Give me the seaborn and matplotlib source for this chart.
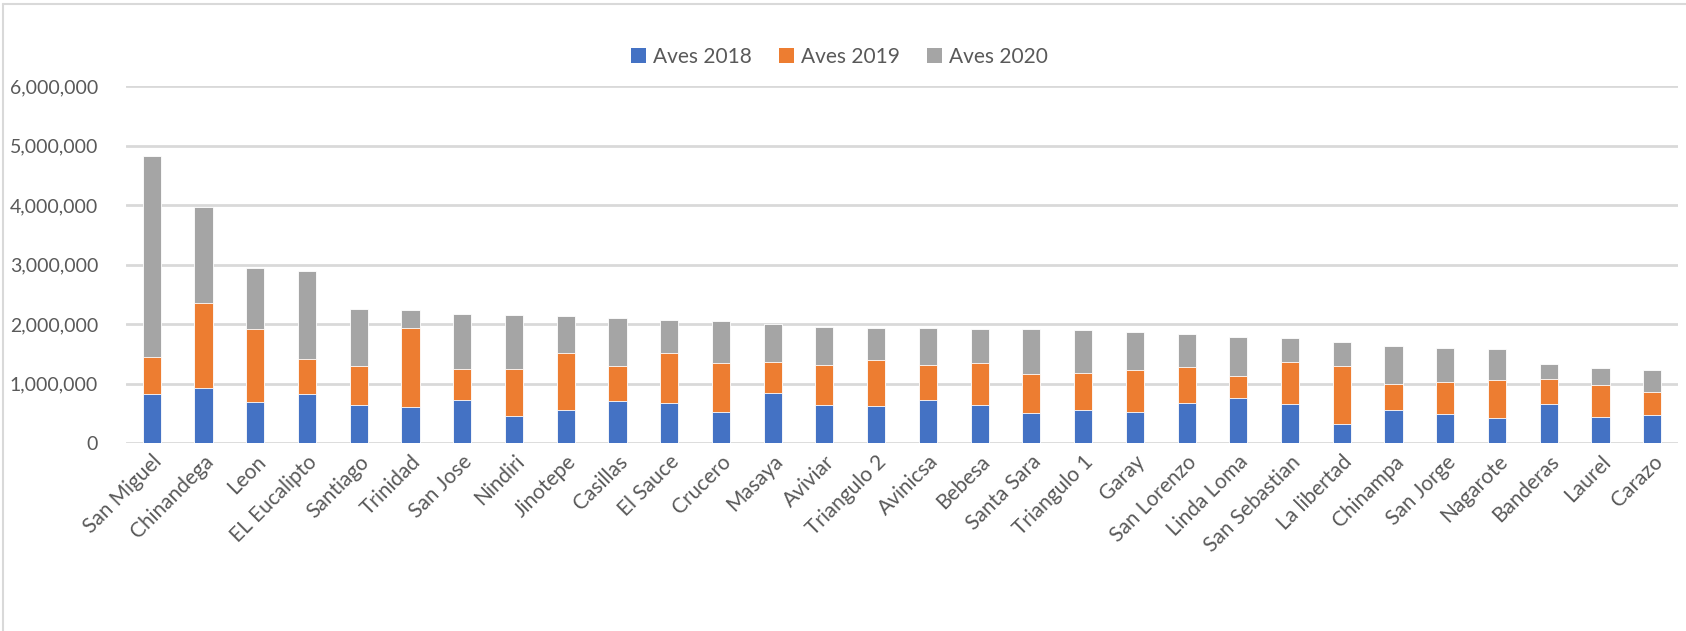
import numpy as np
import pandas as pd
import seaborn as sns
import matplotlib.pyplot as plt
from matplotlib.lines import Line2D
from matplotlib.patches import Patch
from matplotlib.ticker import FuncFormatter

# granjas y aves por año
granjas = ["San Miguel", "Chinandega", "Leon", "EL Eucalipto", "Santiago", "Trinidad",
           "San Jose", "Nindiri", "Jinotepe", "Casillas", "El Sauce", "Crucero", "Masaya",
           "Aviviar", "Triangulo 2", "Avinicsa", "Bebesa", "Santa Sara", "Triangulo 1",
           "Garay", "San Lorenzo", "Linda Loma", "San Sebastian", "La libertad", "Chinampa",
           "San Jorge", "Nagarote", "Banderas", "Laurel", "Carazo"]

aves_2018 = [834000, 923000, 700000, 834000, 638000, 616000, 727000, 459000, 567000, 708000,
             674000, 522000, 843000, 640000, 624000, 730000, 640000, 506000, 562000, 522000,
             680000, 758000, 657000, 331000, 562000, 494000, 427000, 663000, 438000, 483000]

aves_2019 = [615000, 1427000, 1214000, 587000, 660000, 1315000, 515000, 783000, 941000, 584000,
             848000, 826000, 528000, 675000, 780000, 585000, 708000, 651000, 618000, 714000,
             601000, 377000, 714000, 967000, 438000, 534000, 635000, 416000, 540000, 382000]

aves_2020 = [3369000, 1618000, 1024000, 1467000, 957000, 302000, 935000, 918000, 622000, 815000,
             551000, 708000, 640000, 640000, 529000, 618000, 579000, 759000, 719000, 638000,
             556000, 657000, 404000, 399000, 635000, 579000, 528000, 258000, 292000, 371000]

colores = {"Aves 2018": "#4472C4", "Aves 2019": "#ED7D31", "Aves 2020": "#A5A5A5"}

df = pd.DataFrame({"Granja": granjas, "Aves 2018": aves_2018,
                   "Aves 2019": aves_2019, "Aves 2020": aves_2020})
# alturas acumuladas para apilar
df["top_2019"] = df["Aves 2018"] + df["Aves 2019"]
df["top_2020"] = df["top_2019"] + df["Aves 2020"]

sns.set_style("white")
plt.rcParams["font.family"] = ["Lato", "DejaVu Sans"]

fig = plt.figure(figsize=(16.86, 6.31), dpi=100)
ax = fig.add_axes([0.0747, 0.2975, 0.9206, 0.5662])

for col, serie in [("top_2020", "Aves 2020"), ("top_2019", "Aves 2019"), ("Aves 2018", "Aves 2018")]:
    sns.barplot(data=df, x="Granja", y=col, color=colores[serie], width=0.35,
                edgecolor="white", linewidth=0.6, saturation=1, ax=ax)

ax.set_xlim(-0.5, len(granjas) - 0.5)
ax.set_ylim(0, 6000000)
ax.set_yticks(np.arange(0, 6000001, 1000000))
ax.yaxis.set_major_formatter(FuncFormatter(lambda v, p: f"{int(v):,}"))
ax.grid(axis="y", color="#d9d9d9", linewidth=2)
ax.set_axisbelow(True)
for s in ax.spines.values():
    s.set_visible(False)
ax.set_xlabel("")
ax.set_ylabel("")
ax.tick_params(axis="y", length=0, pad=20, labelsize=14, labelcolor="#595959")
ax.tick_params(axis="x", length=0, pad=6, labelsize=15, labelcolor="#595959")
plt.setp(ax.get_xticklabels(), rotation=45, ha="right", rotation_mode="anchor")

handles = [Patch(facecolor=c, edgecolor="none") for c in colores.values()]
fig.legend(handles, list(colores.keys()), loc="center", bbox_to_anchor=(0.498, 0.91),
           ncol=3, frameon=False, fontsize=15, labelcolor="#595959",
           handlelength=0.7, handleheight=0.7, handletextpad=0.35, columnspacing=1.3)

# borde del grafico (solo arriba e izquierda visibles)
fig.add_artist(Line2D([3 / 1686, 3 / 1686], [0, 1 - 4 / 631], transform=fig.transFigure,
                      color="#d9d9d9", linewidth=1.5))
fig.add_artist(Line2D([3 / 1686, 1], [1 - 4 / 631, 1 - 4 / 631], transform=fig.transFigure,
                      color="#d9d9d9", linewidth=1.5))

fig.savefig("out.png", dpi=100)
